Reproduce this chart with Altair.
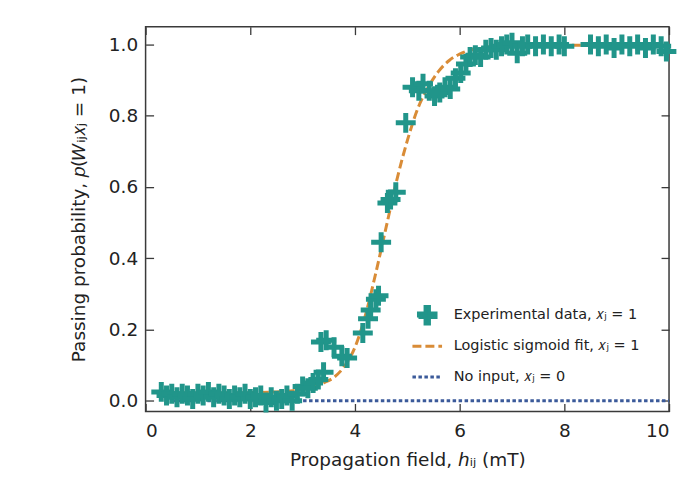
import altair as alt
import pandas as pd

# ---------------- data ----------------
exp_x = [0.30, 0.40, 0.50, 0.60, 0.70, 0.80, 0.90, 1.00, 1.10, 1.20, 1.30, 1.40,
         1.50, 1.60, 1.70, 1.80, 1.90, 2.00, 2.10, 2.20, 2.30, 2.40, 2.50, 2.60,
         2.70, 2.80, 2.90, 3.00, 3.10, 3.20, 3.30, 3.40, 3.35, 3.45, 3.60, 3.75,
         3.85, 4.15, 4.25, 4.30, 4.40, 4.45, 4.50, 4.62, 4.68, 4.78, 4.97, 5.10,
         5.22, 5.30, 5.42, 5.52, 5.62, 5.72, 5.82, 5.92, 6.02, 6.12, 6.20, 6.30,
         6.40, 6.50, 6.60, 6.70, 6.80, 6.90, 7.00, 7.10, 7.20, 7.30, 7.45, 7.60,
         7.75, 7.90, 8.00, 8.50, 8.65, 8.80, 8.95, 9.10, 9.25, 9.40, 9.55, 9.70,
         9.85, 9.95]
exp_y = [0.025, 0.015, 0.020, 0.010, 0.020, 0.015, 0.005, 0.020, 0.015, 0.025, 0.010, 0.020,
         0.015, 0.005, 0.015, 0.010, 0.020, 0.005, 0.010, 0.015, -0.005, 0.010, 0.000, 0.005,
         0.015, 0.000, 0.020, 0.040, 0.035, 0.050, 0.060, 0.080, 0.165, 0.170, 0.150, 0.125,
         0.120, 0.190, 0.230, 0.255, 0.285, 0.295, 0.445, 0.555, 0.565, 0.585, 0.780, 0.880,
         0.870, 0.890, 0.870, 0.855, 0.865, 0.880, 0.875, 0.905, 0.920, 0.945, 0.965, 0.970,
         0.965, 0.985, 0.990, 0.985, 0.995, 1.000, 1.005, 0.975, 0.995, 1.000, 0.995, 1.000,
         0.995, 1.000, 0.995, 1.000, 0.995, 1.000, 0.990, 1.000, 0.995, 1.000, 0.990, 1.000,
         0.995, 0.980]

fit_x = [0.45, 1.0, 2.0, 2.5, 3.0, 3.2, 3.4, 3.6, 3.8, 4.0, 4.2, 4.4, 4.6, 4.8,
         5.0, 5.2, 5.4, 5.6, 5.8, 6.0, 6.4, 7.0, 8.0, 10.0]
fit_y = [0.022, 0.022, 0.023, 0.025, 0.032, 0.037, 0.050, 0.066, 0.097, 0.150, 0.240,
         0.360, 0.490, 0.620, 0.730, 0.820, 0.880, 0.925, 0.955, 0.973, 0.990, 0.997,
         0.998, 0.998]

none_x = [0.38, 10.0]
none_y = [0.0, 0.0]

SERIES = ["Experimental data, 𝑥ⱼ = 1",
          "Logistic sigmoid fit, 𝑥ⱼ = 1",
          "No input, 𝑥ⱼ = 0"]

x_ticks = [0, 2, 4, 6, 8, 10]
y_ticks = [0.0, 0.2, 0.4, 0.6, 0.8, 1.0]

# ---------------- styling ----------------
TEAL = "#21958a"
ORANGE = "#d98c37"
BLUE = "#3b5a9a"
FRAME = "#3a3a3a"
TEXT = "#222222"
FONT = "DejaVu Sans"
FS = 18.5
W, H = 525, 386

PLUS = ("M-0.8,-0.2L-0.2,-0.2L-0.2,-0.8L0.2,-0.8L0.2,-0.2L0.8,-0.2L0.8,0.2"
        "L0.2,0.2L0.2,0.8L-0.2,0.8L-0.2,0.2L-0.8,0.2Z")
# horizontal stroke for the legend; the bare move-tos only give it the plus's height
LINE = "M0,-0.8M0,0.8M-1.35,0L1.35,0"

exp_df = pd.DataFrame({"x": exp_x, "y": exp_y, "series": SERIES[0]})
fit_df = pd.DataFrame({"x": fit_x, "y": fit_y, "series": SERIES[1]})
none_df = pd.DataFrame({"x": none_x, "y": none_y, "series": SERIES[2]})

xs = alt.Scale(domain=[0, 10], nice=False, zero=False)
ys = alt.Scale(domain=[-0.03, 1.05], nice=False, zero=False)

legend = alt.Legend(
    title=None, orient="none", legendX=270, legendY=277, padding=0,
    labelFont=FONT, labelFontSize=14.5, labelColor=TEXT, labelOffset=14, labelLimit=400,
    symbolSize=484, rowPadding=0, symbolStrokeWidth=3, symbolOpacity=1,
)

color = alt.Color("series:N", scale=alt.Scale(domain=SERIES, range=[TEAL, ORANGE, BLUE]),
                  legend=legend)
shape = alt.Shape("series:N", scale=alt.Scale(domain=SERIES, range=[PLUS, LINE, LINE]),
                  legend=legend)
dash = alt.StrokeDash("series:N",
                      scale=alt.Scale(domain=SERIES, range=[[1, 0], [9, 4], [3.5, 2.5]]),
                      legend=legend)

tick_axis = dict(labels=False, domain=False, grid=False, ticks=True, tickSize=8,
                 tickWidth=1.3, tickColor=FRAME, title=None)

# points, with label axes
pts = alt.Chart(exp_df).mark_point(filled=True, size=625, opacity=1, strokeWidth=0).encode(
    x=alt.X("x:Q", scale=xs, axis=alt.Axis(
        orient="bottom", values=x_ticks, format="d", ticks=False, domain=False, grid=False,
        labelPadding=10, labelFont=FONT, labelFontSize=FS, labelColor=TEXT,
        title="Propagation field, ℎᵢⱼ (mT)", titleFont=FONT, titleFontSize=FS,
        titleFontWeight="normal", titleColor=TEXT, titlePadding=11)),
    y=alt.Y("y:Q", scale=ys, axis=alt.Axis(
        orient="left", values=y_ticks, format=".1f", ticks=False, domain=False, grid=False,
        labelPadding=8, labelFont=FONT, labelFontSize=FS, labelColor=TEXT,
        title="Passing probability, 𝑝(𝑊ᵢⱼ𝑥ⱼ = 1)", titleFont=FONT, titleFontSize=FS,
        titleFontWeight="normal", titleColor=TEXT, titlePadding=20)),
    color=color,
    shape=shape,
)

# fit line, with inward ticks on bottom and left edges
fit = alt.Chart(fit_df).mark_line(strokeWidth=3, interpolate="monotone").encode(
    x=alt.X("x:Q", scale=xs, axis=alt.Axis(orient="top", offset=-H, values=x_ticks, **tick_axis)),
    y=alt.Y("y:Q", scale=ys, axis=alt.Axis(orient="right", offset=-W, values=y_ticks, **tick_axis)),
    color=color,
    strokeDash=dash,
)

# no-input line, with inward ticks on top and right edges
none = alt.Chart(none_df).mark_line(strokeWidth=3).encode(
    x=alt.X("x:Q", scale=xs, axis=alt.Axis(orient="bottom", offset=-H, values=x_ticks, **tick_axis)),
    y=alt.Y("y:Q", scale=ys, axis=alt.Axis(orient="left", offset=-W, values=y_ticks, **tick_axis)),
    color=color,
    strokeDash=dash,
)

chart = alt.layer(none, fit, pts).resolve_axis(x="independent", y="independent").properties(
    width=W, height=H,
    autosize=alt.AutoSizeParams(type="none"),
    padding={"left": 138, "top": 18, "right": 10, "bottom": 58},
    background="white",
).configure_view(stroke=FRAME, strokeWidth=1.5)

chart.save("out.html", embed_options={"renderer": "svg", "actions": False})
